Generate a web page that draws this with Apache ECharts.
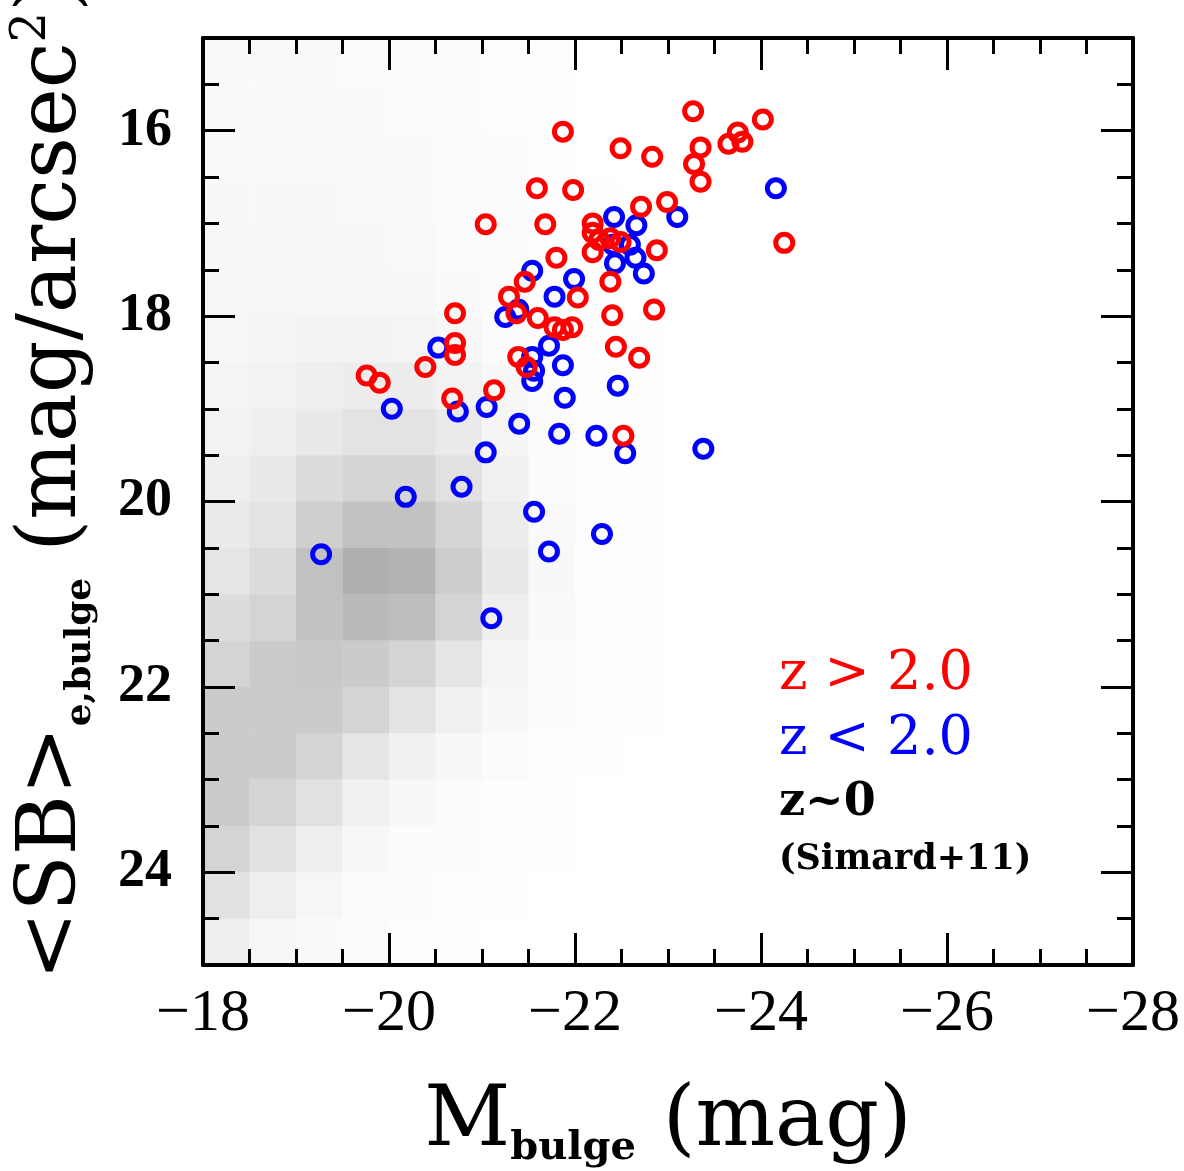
<!DOCTYPE html>
<html>
<head>
<meta charset="utf-8">
<script src="https://cdn.jsdelivr.net/npm/echarts@6/dist/echarts.min.js"></script>
<style>
html,body{margin:0;padding:0;background:#fff;}
#chart{width:1184px;height:1171px;}
</style>
</head>
<body>
<div id="chart"></div>
<script>
// ---- data ----
// z > 2.0 sample (red)
const redX = [-21.87,-21.59,-21.98,-21.04,-21.68,-21.80,-21.46,-21.29,-22.03,-21.37,-21.60,-21.78,-21.87,-21.97,-20.71,-20.71,-20.71,-20.39,-19.76,-19.90,-21.39,-21.48,-20.68,-21.13,-23.27,-24.02,-23.75,-23.80,-23.65,-22.49,-22.83,-23.35,-23.28,-23.35,-24.25,-22.71,-22.99,-22.19,-22.19,-22.26,-22.19,-22.38,-22.49,-22.88,-22.38,-22.40,-22.85,-22.44,-22.69,-22.52];
const redY = [16.01,16.62,16.64,17.01,17.01,17.37,17.63,17.79,17.80,17.97,18.02,18.12,18.15,18.12,17.97,18.29,18.42,18.55,18.64,18.72,18.44,18.55,18.89,18.80,15.79,15.88,16.02,16.12,16.14,16.19,16.28,16.18,16.36,16.55,17.21,16.82,16.77,17.00,17.10,17.18,17.31,17.16,17.20,17.29,17.63,17.99,17.93,18.33,18.45,19.29];
// z < 2.0 sample (blue)
const blueX = [-21.54,-21.99,-21.78,-21.39,-21.25,-20.53,-21.72,-21.54,-21.56,-21.54,-21.87,-21.89,-20.03,-20.74,-21.05,-21.40,-21.83,-22.23,-22.54,-23.38,-21.04,-20.78,-20.18,-21.56,-22.29,-21.72,-19.27,-21.10,-22.46,-24.16,-23.10,-22.42,-22.66,-22.41,-22.59,-22.65,-22.43,-22.74];
const blueY = [17.51,17.60,17.79,17.93,18.01,18.34,18.32,18.44,18.59,18.70,18.53,18.88,19.00,19.03,18.98,19.16,19.27,19.29,19.48,19.43,19.47,19.84,19.95,20.11,20.35,20.54,20.57,21.26,18.75,16.62,16.93,16.93,17.02,17.23,17.23,17.37,17.43,17.54];
// z~0 (Simard+11) cloud: relative point density per 0.5 x 0.5 mag cell
const cloudXCenters = [-18.25,-18.75,-19.25,-19.75,-20.25,-20.75,-21.25,-21.75,-22.25,-22.75];
const cloudYCenters = [15.25,15.75,16.25,16.75,17.25,17.75,18.25,18.75,19.25,19.75,20.25,20.75,21.25,21.75,22.25,22.75,23.25,23.75,24.25,24.75];
const cloudDensity = [
  [0.6,0.6,0.6,0.5,0.5,0.3,0.2,0.1,0,0],
  [0.6,0.6,0.6,0.6,0.5,0.4,0.2,0.1,0,0],
  [0.7,0.7,0.7,0.6,0.6,0.4,0.3,0.1,0,0],
  [0.8,0.8,0.8,0.7,0.6,0.5,0.3,0.1,0.05,0],
  [0.9,0.9,0.9,0.8,0.7,0.5,0.3,0.15,0.05,0],
  [1.0,1.0,1.1,1.0,0.9,0.6,0.4,0.2,0.1,0],
  [1.1,1.2,1.4,1.4,1.3,0.9,0.5,0.2,0.1,0.05],
  [1.3,1.5,1.9,2.2,2.1,1.5,0.8,0.3,0.1,0.05],
  [1.5,1.8,2.6,3.2,3.2,2.4,1.2,0.4,0.15,0.05],
  [2.0,2.5,4.0,4.8,4.8,3.5,1.6,0.5,0.2,0.1],
  [2.3,3.2,5.5,7.2,7.0,4.8,2.2,0.7,0.2,0.1],
  [3.0,4.2,7.2,9.2,8.8,5.8,2.5,0.8,0.25,0.1],
  [4.0,5.0,7.0,8.0,7.5,5.0,2.0,0.7,0.2,0.1],
  [5.0,6.0,6.3,6.0,5.0,3.0,1.2,0.5,0.2,0.1],
  [6.0,6.0,6.0,5.0,3.2,1.6,0.8,0.3,0.1,0.05],
  [6.0,6.0,5.0,3.0,1.6,0.8,0.4,0.2,0.1,0],
  [6.0,5.0,3.5,1.6,0.8,0.4,0.2,0.1,0,0],
  [5.0,3.5,2.0,0.9,0.5,0.3,0.1,0.05,0,0],
  [3.5,2.0,1.0,0.5,0.3,0.2,0.1,0,0,0],
  [2.0,1.0,0.6,0.4,0.2,0.1,0,0,0,0]
];
const cloudCell = 0.5;
const xTickLabels = [-28,-26,-24,-22,-20,-18];
const yTickLabels = [16,18,20,22,24];

// ---- build library data ----
const redData = redX.map((x,i)=>[x,redY[i]]);
const blueData = blueX.map((x,i)=>[x,blueY[i]]);
const cloudData = [];
cloudYCenters.forEach((y,r)=>cloudXCenters.forEach((x,c)=>{
  if (cloudDensity[r][c] > 0) cloudData.push([x,y,cloudDensity[r][c]]);
}));

const chart = echarts.init(document.getElementById('chart'), null, {renderer:'canvas'});
const black = '#000';
const lineW = 4;
function xAxisCfg(pos, labels){
  return {
    type:'value', position:pos, min:-28, max:-18, interval:2, inverse:true,
    axisLine:{show:true, onZero:false, lineStyle:{color:black, width:lineW}},
    axisTick:{show:true, inside:true, length:32, lineStyle:{color:black, width:3}},
    minorTick:{show:true, splitNumber:4, length:16, lineStyle:{color:black, width:3}},
    splitLine:{show:false}, minorSplitLine:{show:false},
    axisLabel:{show:labels, margin:19, color:black, fontFamily:'Liberation Serif', fontSize:60,
      customValues: xTickLabels,
      formatter:(v)=> (v<0?'\u2212':'') + Math.abs(v)}
  };
}
function yMinorCfg(pos){
  return {
    type:'value', position:pos, min:15, max:25, interval:0.5, inverse:true,
    axisLine:{show:true, onZero:false, lineStyle:{color:black, width:lineW}},
    axisTick:{show:true, inside:true, length:16, lineStyle:{color:black, width:3}},
    axisLabel:{show:false}, splitLine:{show:false}
  };
}
function yMajorCfg(pos, labels){
  const cfg = {
    type:'value', position:pos, min:15, max:25, inverse:true,
    axisLine:{show:false, onZero:false},
    axisTick:{show:true, inside:true, length:32, customValues:yTickLabels, lineStyle:{color:black, width:3}},
    axisLabel:{show:labels, customValues:yTickLabels, margin:31, color:black,
      fontFamily:'Liberation Serif', fontWeight:'bold', fontSize:54},
    splitLine:{show:false}
  };
  if (labels) {
    cfg.name = '{m|<SB>}{s|e,bulge}{m| (mag/arcsec}{p|2}{m|)}';
    cfg.nameLocation = 'middle';
    cfg.nameRotate = 90;
    cfg.nameGap = 104;
    cfg.nameTextStyle = {
      color:black,
      padding:[0,0,0,43],
      rich:{
        m:{fontFamily:'DejaVu Serif', fontSize:82, color:black, lineHeight:90},
        s:{fontFamily:'DejaVu Serif', fontWeight:'bold', fontSize:36, color:black, verticalAlign:'bottom', lineHeight:90},
        p:{fontFamily:'DejaVu Serif', fontSize:48, color:black, verticalAlign:'top', lineHeight:90}
      }
    };
  }
  return cfg;
}

const xBottom = xAxisCfg('bottom', true);
xBottom.name = '{m|M}{s|bulge}{m| (mag)}';
xBottom.nameLocation = 'middle';
xBottom.nameGap = 112;
xBottom.nameTextStyle = {
  color:black,
  rich:{
    m:{fontFamily:'DejaVu Serif', fontSize:84, color:black, lineHeight:92},
    s:{fontFamily:'DejaVu Serif', fontWeight:'bold', fontSize:40, color:black, verticalAlign:'bottom', lineHeight:92}
  }
};

const option = {
  animation:false,
  backgroundColor:'#fff',
  grid:{left:203, top:38, right:51, bottom:206, containLabel:false, outerBoundsMode:'none'},
  xAxis:[xBottom, xAxisCfg('top', false)],
  yAxis:[yMinorCfg('left'), yMajorCfg('left', true), yMinorCfg('right'), yMajorCfg('right', false)],
  series:[
    {
      type:'custom', name:'z~0', xAxisIndex:0, yAxisIndex:0, silent:true, clip:true, z:1,
      data: cloudData,
      renderItem:(params, api)=>{
        const x = api.value(0), y = api.value(1), d = api.value(2);
        const p0 = api.coord([x - cloudCell/2, y - cloudCell/2]);
        const p1 = api.coord([x + cloudCell/2, y + cloudCell/2]);
        return {
          type:'rect',
          shape:{x:Math.min(p0[0],p1[0]), y:Math.min(p0[1],p1[1]), width:Math.abs(p1[0]-p0[0]), height:Math.abs(p1[1]-p0[1])},
          style:{fill:'rgba(0,0,0,' + (d*0.034).toFixed(3) + ')'}
        };
      }
    },
    {
      type:'scatter', name:'z < 2.0', xAxisIndex:0, yAxisIndex:0, data:blueData, z:3,
      symbol:'circle', symbolSize:17,
      itemStyle:{color:'rgba(0,0,0,0)', borderColor:'#0000ff', borderWidth:5, opacity:1}
    },
    {
      type:'scatter', name:'z > 2.0', xAxisIndex:0, yAxisIndex:0, data:redData, z:4,
      symbol:'circle', symbolSize:17,
      itemStyle:{color:'rgba(0,0,0,0)', borderColor:'#ff0000', borderWidth:5, opacity:1}
    }
  ],
  graphic:[
    {type:'text', left:779, top:648, z:10, style:{text:'z > 2.0', fill:'#ff0000', font:'54px "DejaVu Serif"'}},
    {type:'text', left:779, top:713, z:10, style:{text:'z < 2.0', fill:'#0000ff', font:'54px "DejaVu Serif"'}},
    {type:'text', left:779, top:780, z:10, style:{text:'z~0', fill:'#000', font:'bold 46px "DejaVu Serif"'}},
    {type:'text', left:779, top:842, z:10, style:{text:'(Simard+11)', fill:'#000', font:'bold 35px "DejaVu Serif"'}}
  ]
};
chart.setOption(option);
</script>
</body>
</html>
